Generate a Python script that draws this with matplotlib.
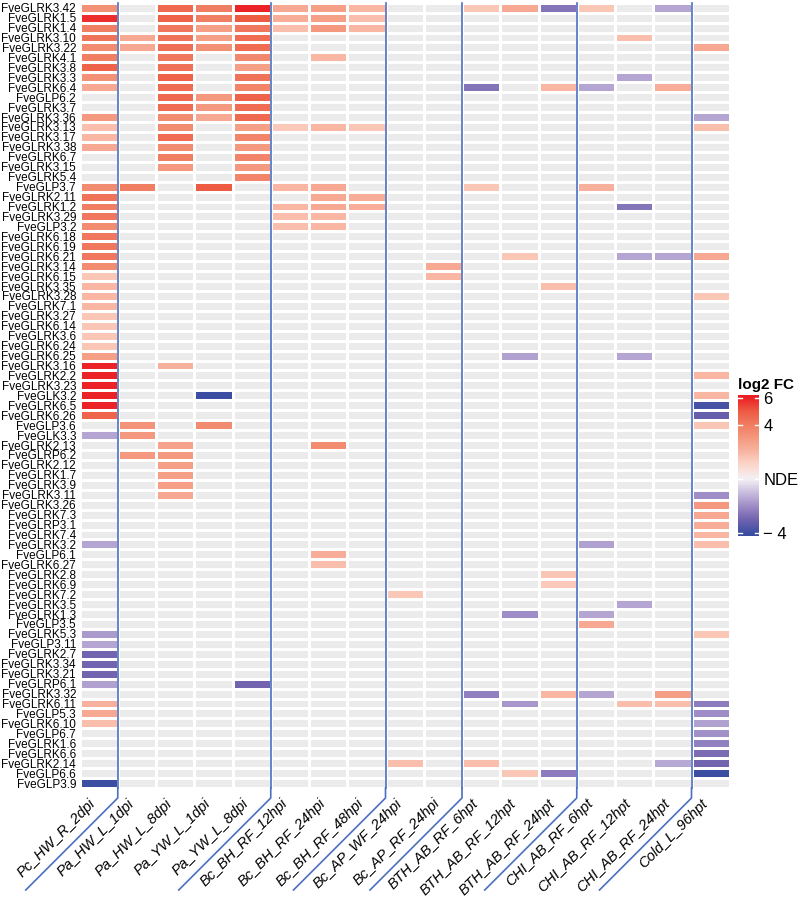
import numpy as np
import matplotlib
matplotlib.use('Agg')
import matplotlib.pyplot as plt
from matplotlib.colors import LinearSegmentedColormap, Normalize
from matplotlib.lines import Line2D
from matplotlib.transforms import IdentityTransform

plt.rcParams['font.family'] = ['Liberation Sans', 'DejaVu Sans']

genes = [
    "FveGLRK3.42", "FveGLRK1.5", "FveGLRK1.4", "FveGLRK3.10", "FveGLRK3.22",
    "FveGLRK4.1", "FveGLRK3.8", "FveGLRK3.3", "FveGLRK6.4", "FveGLP6.2",
    "FveGLRK3.7", "FveGLRK3.36", "FveGLRK3.13", "FveGLRK3.17", "FveGLRK3.38",
    "FveGLRK6.7", "FveGLRK3.15", "FveGLRK5.4", "FveGLP3.7", "FveGLRK2.11",
    "FveGLRK1.2", "FveGLRK3.29", "FveGLP3.2", "FveGLRK6.18", "FveGLRK6.19",
    "FveGLRK6.21", "FveGLRK3.14", "FveGLRK6.15", "FveGLRK3.35", "FveGLRK3.28",
    "FveGLRK7.1", "FveGLRK3.27", "FveGLRK6.14", "FveGLRK3.6", "FveGLRK6.24",
    "FveGLRK6.25", "FveGLRK3.16", "FveGLRK2.2", "FveGLRK3.23", "FveGLK3.2",
    "FveGLRK6.5", "FveGLRK6.26", "FveGLP3.6", "FveGLK3.3", "FveGLRK2.13",
    "FveGLRP6.2", "FveGLRK2.12", "FveGLRK1.7", "FveGLRK3.9", "FveGLRK3.11",
    "FveGLRK3.26", "FveGLRK7.3", "FveGLRP3.1", "FveGLRK7.4", "FveGLRK3.2",
    "FveGLP6.1", "FveGLRK6.27", "FveGLRK2.8", "FveGLRK6.9", "FveGLRK7.2",
    "FveGLRK3.5", "FveGLRK1.3", "FveGLP3.5", "FveGLRK5.3", "FveGLP3.11",
    "FveGLRK2.7", "FveGLRK3.34", "FveGLRK3.21", "FveGLRP6.1", "FveGLRK3.32",
    "FveGLRK6.11", "FveGLP5.3", "FveGLRK6.10", "FveGLP6.7", "FveGLRK1.6",
    "FveGLRK6.6", "FveGLRK2.14", "FveGLP6.6", "FveGLP3.9",
]

conditions = [
    "Pc_HW_R_2dpi", "Pa_HW_L_1dpi", "Pa_HW_L_8dpi", "Pa_YW_L_1dpi", "Pa_YW_L_8dpi",
    "Bc_BH_RF_12hpi", "Bc_BH_RF_24hpi", "Bc_BH_RF_48hpi", "Bc_AP_WF_24hpi",
    "Bc_AP_RF_24hpi", "BTH_AB_RF_6hpt", "BTH_AB_RF_12hpt", "BTH_AB_RF_24hpt",
    "CHI_AB_RF_6hpt", "CHI_AB_RF_12hpt", "CHI_AB_RF_24hpt", "Cold_L_96hpt",
]

# group sizes (for the separators)
group_sizes = [1, 4, 3, 2, 3, 3, 1]

# log2 FC per condition (genes not listed are NDE)
pc_hw_r_2dpi = {
    "FveGLRK3.42": 3.3, "FveGLRK1.5": 5.8, "FveGLRK1.4": 4.0, "FveGLRK3.10": 4.3,
    "FveGLRK3.22": 3.5, "FveGLRK4.1": 4.0, "FveGLRK3.8": 4.8, "FveGLRK3.3": 3.3,
    "FveGLRK6.4": 2.5, "FveGLRK3.36": 3.0, "FveGLRK3.13": 1.8, "FveGLRK3.17": 2.0,
    "FveGLRK3.38": 2.5, "FveGLP3.7": 3.5, "FveGLRK2.11": 4.3, "FveGLRK1.2": 4.0,
    "FveGLRK3.29": 4.2, "FveGLP3.2": 3.5, "FveGLRK6.18": 4.2, "FveGLRK6.19": 4.2,
    "FveGLRK6.21": 4.2, "FveGLRK3.14": 3.5, "FveGLRK6.15": 1.6, "FveGLRK3.35": 2.0,
    "FveGLRK3.28": 2.0, "FveGLRK7.1": 2.0, "FveGLRK3.27": 1.6, "FveGLRK6.14": 1.6,
    "FveGLRK3.6": 1.6, "FveGLRK6.24": 1.6, "FveGLRK6.25": 2.8, "FveGLRK3.16": 6.0,
    "FveGLRK2.2": 6.0, "FveGLRK3.23": 6.0, "FveGLK3.2": 6.0, "FveGLRK6.5": 6.0,
    "FveGLRK6.26": 4.7, "FveGLK3.3": -1.5, "FveGLRK3.2": -1.5, "FveGLRK5.3": -1.7,
    "FveGLP3.11": -1.5, "FveGLRK2.7": -3.0, "FveGLRK3.34": -3.0, "FveGLRK3.21": -3.0,
    "FveGLRP6.1": -1.6, "FveGLRK6.11": 2.2, "FveGLP5.3": 2.5, "FveGLRK6.10": 1.8,
    "FveGLP3.9": -4.0,
}
pa_hw_l_1dpi = {
    "FveGLRK3.10": 2.5, "FveGLRK3.22": 2.5, "FveGLP3.7": 4.0, "FveGLP3.6": 3.2,
    "FveGLK3.3": 3.0, "FveGLRP6.2": 3.0,
}
pa_hw_l_8dpi = {
    "FveGLRK3.42": 4.6, "FveGLRK1.5": 4.8, "FveGLRK1.4": 4.2, "FveGLRK3.10": 4.3,
    "FveGLRK3.22": 4.4, "FveGLRK4.1": 4.2, "FveGLRK3.8": 4.4, "FveGLRK3.3": 4.8,
    "FveGLRK6.4": 4.5, "FveGLP6.2": 4.6, "FveGLRK3.7": 4.5, "FveGLRK3.36": 3.5,
    "FveGLRK3.13": 3.5, "FveGLRK3.17": 4.5, "FveGLRK3.38": 3.5, "FveGLRK6.7": 4.0,
    "FveGLRK3.15": 3.0, "FveGLRK3.16": 2.2, "FveGLRK2.13": 2.7, "FveGLRP6.2": 3.0,
    "FveGLRK2.12": 2.8, "FveGLRK1.7": 2.8, "FveGLRK3.9": 2.8, "FveGLRK3.11": 2.5,
}
pa_yw_l_1dpi = {
    "FveGLRK3.42": 4.0, "FveGLRK1.5": 4.0, "FveGLRK1.4": 2.8, "FveGLRK3.10": 2.8,
    "FveGLRK3.22": 3.3, "FveGLP6.2": 3.0, "FveGLRK3.7": 3.0, "FveGLRK3.36": 2.5,
    "FveGLP3.7": 5.0, "FveGLK3.2": -4.0, "FveGLP3.6": 3.5,
}
pa_yw_l_8dpi = {
    "FveGLRK3.42": 6.0, "FveGLRK1.5": 5.0, "FveGLRK1.4": 4.2, "FveGLRK3.10": 4.5,
    "FveGLRK3.22": 4.5, "FveGLRK4.1": 3.6, "FveGLRK3.8": 2.8, "FveGLRK3.3": 4.3,
    "FveGLRK6.4": 3.8, "FveGLP6.2": 4.8, "FveGLRK3.7": 4.5, "FveGLRK3.36": 4.6,
    "FveGLRK3.13": 2.8, "FveGLRK3.17": 3.8, "FveGLRK3.38": 3.0, "FveGLRK6.7": 3.8,
    "FveGLRK3.15": 3.0, "FveGLRK5.4": 3.8, "FveGLRP6.1": -3.0,
}
bc_bh_rf_12hpi = {
    "FveGLRK3.42": 2.5, "FveGLRK1.5": 2.3, "FveGLRK1.4": 1.8, "FveGLRK3.13": 1.5,
    "FveGLP3.7": 2.0, "FveGLRK1.2": 2.0, "FveGLRK3.29": 1.8, "FveGLP3.2": 1.8,
}
bc_bh_rf_24hpi = {
    "FveGLRK3.42": 2.8, "FveGLRK1.5": 2.8, "FveGLRK1.4": 3.0, "FveGLRK4.1": 2.0,
    "FveGLRK3.13": 2.0, "FveGLP3.7": 2.5, "FveGLRK2.11": 2.5, "FveGLRK1.2": 2.5,
    "FveGLRK3.29": 2.0, "FveGLP3.2": 2.0, "FveGLRK2.13": 3.5, "FveGLP6.1": 2.3,
    "FveGLRK6.27": 1.8,
}
bc_bh_rf_48hpi = {
    "FveGLRK3.42": 2.0, "FveGLRK1.5": 1.8, "FveGLRK1.4": 2.0, "FveGLRK3.13": 1.6,
    "FveGLRK2.11": 2.3, "FveGLRK1.2": 2.3,
}
bc_ap_wf_24hpi = {"FveGLRK7.2": 1.6, "FveGLRK2.14": 1.8}
bc_ap_rf_24hpi = {"FveGLRK3.14": 2.5, "FveGLRK6.15": 2.0}
bth_ab_rf_6hpt = {
    "FveGLRK3.42": 1.6, "FveGLRK6.4": -2.6, "FveGLP3.7": 1.6, "FveGLRK3.32": -2.3,
    "FveGLRK2.14": 1.8,
}
bth_ab_rf_12hpt = {
    "FveGLRK3.42": 2.5, "FveGLRK6.21": 1.6, "FveGLRK6.25": -1.6, "FveGLRK1.3": -2.0,
    "FveGLRK6.11": -1.8, "FveGLP6.6": 1.6,
}
bth_ab_rf_24hpt = {
    "FveGLRK3.42": -2.6, "FveGLRK6.4": 2.0, "FveGLRK3.35": 1.8, "FveGLRK2.8": 1.6,
    "FveGLRK6.9": 1.5, "FveGLRK3.32": 2.0, "FveGLP6.6": -2.4,
}
chi_ab_rf_6hpt = {
    "FveGLRK3.42": 1.6, "FveGLRK6.4": -1.5, "FveGLP3.7": 2.2, "FveGLRK3.2": -1.6,
    "FveGLRK1.3": -1.5, "FveGLP3.5": 2.5, "FveGLRK3.32": -1.5,
}
chi_ab_rf_12hpt = {
    "FveGLRK3.10": 1.8, "FveGLRK3.3": -1.5, "FveGLRK1.2": -2.6, "FveGLRK6.21": -1.5,
    "FveGLRK6.25": -1.5, "FveGLRK3.5": -1.5, "FveGLRK6.11": 1.8,
}
chi_ab_rf_24hpt = {
    "FveGLRK3.42": -1.5, "FveGLRK6.4": 2.3, "FveGLRK6.21": -1.5, "FveGLRK3.32": 2.8,
    "FveGLRK6.11": 1.8, "FveGLRK2.14": -1.4,
}
cold_l_96hpt = {
    "FveGLRK3.22": 2.5, "FveGLRK3.36": -1.5, "FveGLRK3.13": 1.8, "FveGLRK6.21": 2.5,
    "FveGLRK3.28": 1.6, "FveGLRK2.2": 2.0, "FveGLK3.2": 2.0, "FveGLRK6.5": -3.8,
    "FveGLRK6.26": -3.2, "FveGLP3.6": 1.6, "FveGLRK3.11": -2.0, "FveGLRK3.26": 3.0,
    "FveGLRK7.3": 2.5, "FveGLRP3.1": 2.3, "FveGLRK7.4": 2.0, "FveGLRK3.2": 1.8,
    "FveGLRK5.3": 1.6, "FveGLRK6.11": -2.4, "FveGLP5.3": -2.0, "FveGLRK6.10": -1.6,
    "FveGLP6.7": -1.9, "FveGLRK1.6": -2.3, "FveGLRK6.6": -2.8, "FveGLRK2.14": -3.0,
    "FveGLP6.6": -4.0,
}

columns = [pc_hw_r_2dpi, pa_hw_l_1dpi, pa_hw_l_8dpi, pa_yw_l_1dpi, pa_yw_l_8dpi,
           bc_bh_rf_12hpi, bc_bh_rf_24hpi, bc_bh_rf_48hpi, bc_ap_wf_24hpi,
           bc_ap_rf_24hpi, bth_ab_rf_6hpt, bth_ab_rf_12hpt, bth_ab_rf_24hpt,
           chi_ab_rf_6hpt, chi_ab_rf_12hpt, chi_ab_rf_24hpt, cold_l_96hpt]

nrow, ncol = len(genes), len(conditions)
M = np.full((nrow, ncol), np.nan)
for j, col in enumerate(columns):
    for g, v in col.items():
        M[genes.index(g), j] = v
M = np.ma.masked_invalid(M)

# colour scale
vmin, vmax = -4.2, 6.2
anchors = [(-4.2, "#3A4B9F"), (-4.0, "#3D4FA3"), (-3.0, "#7364AF"), (-2.0, "#9E8DC6"),
           (-1.0, "#CABEE0"), (0.0, "#F3F1F5"), (1.0, "#FBD8CD"), (1.5, "#FAC9BA"),
           (2.0, "#F8B6A3"), (3.0, "#F49A80"), (4.0, "#F07E63"), (5.0, "#EE5C44"),
           (6.0, "#EB2327"), (6.2, "#E91D24")]
cmap = LinearSegmentedColormap.from_list(
    "lfc", [((v - vmin) / (vmax - vmin), c) for v, c in anchors])
cmap.set_bad("#EBEBEB")
norm = Normalize(vmin=vmin, vmax=vmax)

W, H = 800, 906
fig = plt.figure(figsize=(W / 100, H / 100), dpi=100)
ax = fig.add_axes([79.5 / W, 1 - 788 / H, 650.25 / W, 785.3 / H])
ax.pcolormesh(np.arange(ncol + 1), np.arange(nrow + 1), M, cmap=cmap, norm=norm,
              edgecolors="white", linewidth=0.9)
ax.set_xlim(0, ncol)
ax.set_ylim(nrow, 0)
for s in ax.spines.values():
    s.set_visible(False)
ax.set_yticks(np.arange(nrow) + 0.5)
ax.set_yticklabels(genes, fontsize=8.5)
ax.set_xticks(np.arange(ncol) + 0.5)
ax.set_xticklabels(conditions, fontsize=10.5, rotation=45, ha="right", va="top",
                   style="italic")
ax.tick_params(axis="both", length=0)
ax.tick_params(axis="y", pad=2.5)
ax.tick_params(axis="x", pad=6)

# group separators
line_col = "#4A70C0"
bounds = np.cumsum(group_sizes)[:-1]
for b in bounds:
    ax.plot([b, b], [0, nrow], color=line_col, lw=1.2, clip_on=False, zorder=5)
    x0, y0 = ax.transData.transform((b, nrow))
    fig.add_artist(Line2D([x0, x0, x0 - 92], [y0, y0 - 10, y0 - 102],
                          transform=IdentityTransform(), color=line_col, lw=1.2))

# colour bar
cax = fig.add_axes([738 / W, 1 - 536 / H, 21 / W, 141 / H])
grad = np.linspace(vmin, vmax, 300).reshape(-1, 1)
cax.imshow(grad, aspect="auto", cmap=cmap, norm=norm, origin="lower",
           extent=[0, 1, vmin, vmax])
cax.set_xlim(0, 1)
cax.set_ylim(vmin, vmax)
cb_ticks = [-4, 0, 4, 6]
cb_labels = ["\u2212 4", "NDE", "4", "6"]
for t in cb_ticks:
    cax.plot([0, 0.2], [t, t], color="white", lw=1)
    cax.plot([0.8, 1], [t, t], color="white", lw=1)
cax.set_xticks([])
cax.yaxis.tick_right()
cax.set_yticks(cb_ticks)
cax.set_yticklabels(cb_labels, fontsize=12)
cax.tick_params(axis="y", length=0, pad=3)
for s in cax.spines.values():
    s.set_visible(False)
cax.set_title("log2 FC", fontsize=11, fontweight="bold", loc="left", pad=4)

fig.savefig("out.png", dpi=100)
